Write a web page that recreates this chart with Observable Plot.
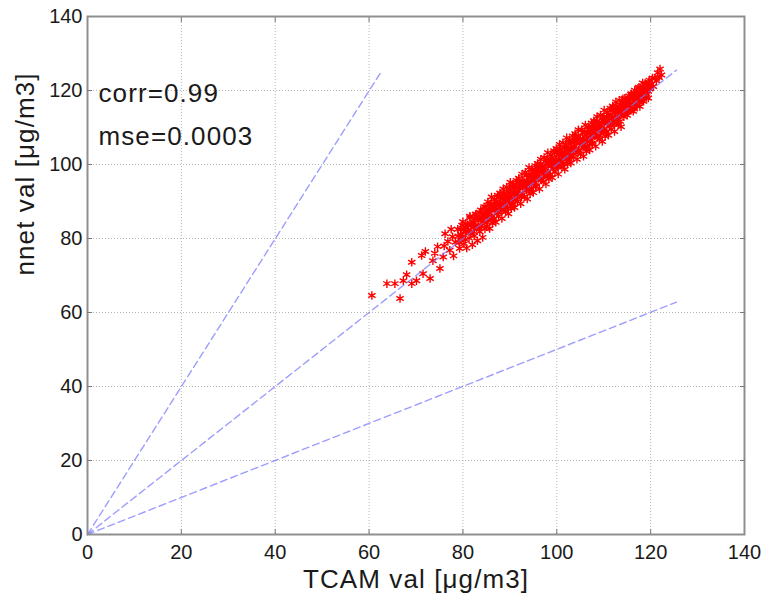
<!DOCTYPE html>
<html>
<head>
<meta charset="utf-8">
<script src="https://cdn.jsdelivr.net/npm/d3@7"></script>
<script src="https://cdn.jsdelivr.net/npm/@observablehq/plot@0.6"></script>
<style>
  html, body { margin: 0; padding: 0; background: #fff; }
  svg g[aria-label="text"] text { letter-spacing: 1.1px; }
</style>
</head>
<body>
<div id="chart"></div>
<script>
// ---- data ----
const axisTicks = [0, 20, 40, 60, 80, 100, 120, 140];
const gridTicks = [20, 40, 60, 80, 100, 120];
const xLabel = "TCAM val [\u03bcg/m3]";
const yLabel = "nnet val [\u03bcg/m3]";
const statsLines = ["corr=0.99", "mse=0.0003"];

// reference guide lines y = 2x, y = x, y = 0.5x
const guideId = ["2x", "2x", "1x", "1x", "05x", "05x"];
const guideX  = [0, 62.8, 0, 125.5, 0, 125.5];
const guideY  = [0, 125.5, 0, 125.5, 0, 62.8];

// scatter: TCAM (x) vs nnet (y)
const tcam = [
  60.6, 63.8, 65.5, 66.6, 67.3, 68.0, 69.1, 69.1, 70.1, 71.2, 71.5, 72.0, 73.0, 73.6, 74.0, 74.6, 75.1, 75.8, 76.0, 76.2, 76.8, 77.2, 77.5,
  77.8, 78.0, 78.4, 78.9, 79.3, 79.6, 80.0, 80.2, 80.5, 80.8, 81.0, 81.3, 81.5, 81.7, 82.0, 82.2, 82.4, 82.7, 82.9, 83.1, 83.4, 83.6, 83.8, 84.0, 84.2, 84.5, 84.7, 84.9,
  85, 85.1, 85.3, 85.4, 85.6, 85.7, 85.9,
  86, 86.1, 86.3, 86.4, 86.6, 86.7, 86.9,
  87, 87.1, 87.3, 87.4, 87.6, 87.7, 87.9,
  88, 88.1, 88.3, 88.4, 88.6, 88.7, 88.9,
  89, 89.1, 89.3, 89.4, 89.6, 89.7, 89.9,
  90, 90.1, 90.3, 90.4, 90.6, 90.7, 90.9,
  91, 91.1, 91.3, 91.4, 91.6, 91.7, 91.9,
  92, 92.1, 92.3, 92.4, 92.6, 92.7, 92.9,
  93, 93.1, 93.3, 93.4, 93.6, 93.7, 93.9,
  94, 94.1, 94.3, 94.4, 94.6, 94.7, 94.9,
  95, 95.1, 95.3, 95.4, 95.6, 95.7, 95.9,
  96, 96.1, 96.3, 96.4, 96.6, 96.7, 96.9,
  97, 97.1, 97.3, 97.4, 97.6, 97.7, 97.9,
  98, 98.1, 98.3, 98.4, 98.6, 98.7, 98.9,
  99, 99.1, 99.3, 99.4, 99.6, 99.7, 99.9,
  100, 100.1, 100.3, 100.4, 100.6, 100.7, 100.9,
  101, 101.1, 101.3, 101.4, 101.6, 101.7, 101.9,
  102, 102.1, 102.3, 102.4, 102.6, 102.7, 102.9,
  103, 103.1, 103.3, 103.4, 103.6, 103.7, 103.9,
  104, 104.1, 104.3, 104.4, 104.6, 104.7, 104.9,
  105, 105.1, 105.3, 105.4, 105.6, 105.7, 105.9,
  106, 106.1, 106.3, 106.4, 106.6, 106.7, 106.9,
  107, 107.1, 107.3, 107.4, 107.6, 107.7, 107.9,
  108, 108.1, 108.3, 108.4, 108.6, 108.7, 108.9,
  109, 109.1, 109.3, 109.4, 109.6, 109.7, 109.9,
  110, 110.1, 110.3, 110.4, 110.6, 110.7, 110.9,
  111, 111.1, 111.3, 111.4, 111.6, 111.7, 111.9,
  112, 112.1, 112.3, 112.4, 112.6, 112.7, 112.9,
  113, 113.1, 113.3, 113.4, 113.6, 113.7, 113.9,
  114, 114.1, 114.3, 114.4, 114.6, 114.7, 114.9,
  115, 115.1, 115.3, 115.4, 115.6, 115.7, 115.9,
  116, 116.1, 116.3, 116.4, 116.6, 116.7, 116.9,
  117, 117.1, 117.3, 117.4, 117.6, 117.7, 117.9,
  118, 118.3, 118.5, 118.7, 118.9,
  119.1, 119.3, 119.5, 119.7, 119.9,
  120.1, 120.4, 120.6, 120.9,
  121.2, 121.5, 121.8,
  122.0, 122.3,
  // second, denser layer near the band centre
  79, 79.2, 79.5, 79.6, 79.8,
  80, 80.2, 80.5, 80.6, 80.8,
  81, 81.2, 81.5, 81.6, 81.8,
  82, 82.2, 82.5, 82.6, 82.8,
  83, 83.2, 83.5, 83.6, 83.8,
  84, 84.2, 84.5, 84.6, 84.8,
  85, 85.2, 85.5, 85.6, 85.8,
  86, 86.2, 86.5, 86.6, 86.8,
  87, 87.2, 87.5, 87.6, 87.8,
  88, 88.2, 88.5, 88.6, 88.8,
  89, 89.2, 89.5, 89.6, 89.8,
  90, 90.2, 90.5, 90.6, 90.8,
  91, 91.2, 91.5, 91.6, 91.8,
  92, 92.2, 92.5, 92.6, 92.8,
  93, 93.2, 93.5, 93.6, 93.8,
  94, 94.2, 94.5, 94.6, 94.8,
  95, 95.2, 95.5, 95.6, 95.8,
  96, 96.2, 96.5, 96.6, 96.8,
  97, 97.2, 97.5, 97.6, 97.8,
  98, 98.2, 98.5, 98.6, 98.8,
  99, 99.2, 99.5, 99.6, 99.8,
  100, 100.2, 100.5, 100.6, 100.8,
  101, 101.2, 101.5, 101.6, 101.8,
  102, 102.2, 102.5, 102.6, 102.8,
  103, 103.2, 103.5, 103.6, 103.8,
  104, 104.2, 104.5, 104.6, 104.8,
  105, 105.2, 105.5, 105.6, 105.8,
  106, 106.2, 106.5, 106.6, 106.8,
  107, 107.2, 107.5, 107.6, 107.8,
  108, 108.2, 108.5, 108.6, 108.8,
  109, 109.2, 109.5, 109.6, 109.8,
  110, 110.2, 110.5, 110.6, 110.8,
  111, 111.2, 111.5, 111.6, 111.8,
  112, 112.2, 112.5, 112.6, 112.8,
  113, 113.2, 113.5, 113.6, 113.8,
  114, 114.2, 114.5, 114.6, 114.8,
  115, 115.2, 115.5, 115.6, 115.8,
  116, 116.2, 116.5, 116.6, 116.8,
  117, 117.2, 117.5, 117.6, 117.8,
  118, 118.2, 118.5, 118.6, 118.8,
  119, 119.2, 119.5, 119.6, 119.8
];
const nnet = [
  64.6, 67.8, 67.8, 63.8, 68.6, 70.2, 67.8, 73.6, 68.6, 75.4, 70.5, 76.5, 69.2, 74.0, 76.0, 77.8, 71.9, 75.0, 78.0, 81.3, 79.2, 76.8, 82.5,
  80.5, 75.3, 79.0, 82.5, 77.3, 81.1, 84.5, 78.5, 82.0, 77.4, 83.7, 80.1, 86.0, 81.5, 78.3, 84.3, 80.7, 86.5, 82.8, 79.4, 85.1, 81.8, 87.7, 83.5, 80.3, 86.2, 82.6, 88.5,
  87.5, 83.3, 89.9, 85.8, 87.0, 82.7, 89.3,
  85.4, 91.2, 84.1, 88.3, 85.4, 90.6, 87.8,
  84.4, 89.9, 87.2, 91.7, 86.0, 88.9, 92.3,
  91.6, 88.2, 85.4, 90.6, 93.4, 87.8, 90.5,
  91.5, 87.3, 93.9, 89.8, 91.0, 86.7, 93.3,
  89.4, 95.2, 88.1, 92.3, 89.4, 94.6, 91.8,
  88.4, 93.9, 91.2, 95.7, 90.0, 92.9, 96.3,
  95.6, 92.2, 89.4, 94.6, 97.4, 91.8, 94.5,
  95.5, 91.3, 97.9, 93.8, 95.0, 90.7, 97.3,
  93.4, 99.2, 92.1, 96.3, 93.4, 98.6, 95.8,
  92.4, 97.9, 95.2, 99.7, 94.0, 96.9, 100.3,
  99.6, 96.2, 93.4, 98.6, 101.4, 95.8, 98.5,
  99.5, 95.3, 101.9, 97.8, 99.0, 94.7, 101.3,
  97.4, 103.2, 96.1, 100.3, 97.4, 102.6, 99.8,
  96.4, 101.9, 99.2, 103.7, 98.0, 100.9, 104.3,
  103.6, 100.2, 97.4, 102.6, 105.4, 99.8, 102.5,
  103.5, 99.3, 105.9, 101.8, 103.0, 98.7, 105.3,
  101.4, 107.2, 100.1, 104.3, 101.4, 106.6, 103.8,
  100.4, 105.9, 103.2, 107.7, 102.0, 104.9, 108.3,
  107.6, 104.2, 101.4, 106.6, 109.4, 103.8, 106.5,
  107.0, 102.8, 109.4, 105.3, 106.5, 102.2, 108.8,
  104.9, 110.7, 103.6, 107.8, 104.9, 110.1, 107.3,
  103.9, 109.4, 106.7, 111.2, 105.5, 108.4, 111.8,
  111.1, 107.7, 104.9, 110.1, 112.9, 107.3, 110.0,
  111.0, 106.8, 113.4, 109.3, 110.5, 106.2, 112.8,
  108.9, 114.7, 107.6, 111.8, 108.9, 114.1, 111.3,
  107.9, 113.4, 110.7, 115.2, 109.5, 112.4, 115.8,
  115.1, 111.7, 108.9, 114.1, 116.9, 111.3, 114.0,
  115.0, 110.8, 117.4, 113.3, 114.5, 110.2, 116.8,
  113.7, 117.8, 112.9, 115.8, 113.9, 117.5, 115.6,
  113.3, 117.2, 115.3, 118.5, 114.6, 116.6, 119.1,
  118.6, 116.3, 114.4, 118.0, 120.1, 116.2, 118.1,
  118.9, 115.9, 120.6, 117.8, 118.7, 115.7, 120.4,
  117.7, 122.0, 117.1, 120.1, 119.6,
  118.1, 121.4, 119.8, 122.8, 121.1,
  121.7, 123.4, 121.1, 123.3,
  122.6, 124.8, 123.5,
  125.8, 124.2,
  // second layer
  80.7, 78.9, 82.4, 80.4, 83.6,
  80.3, 82.5, 79.7, 84.0, 82.1,
  83.6, 82.2, 85.6, 81.6, 83.8,
  83.7, 81.9, 85.4, 83.4, 86.6,
  83.3, 85.5, 82.7, 87.0, 85.1,
  86.6, 85.2, 88.6, 84.6, 86.8,
  86.2, 84.4, 87.9, 85.9, 89.1,
  85.8, 88.0, 85.2, 89.5, 87.6,
  89.1, 87.7, 91.1, 87.1, 89.3,
  89.2, 87.4, 90.9, 88.9, 92.1,
  88.8, 91.0, 88.2, 92.5, 90.6,
  92.1, 90.7, 94.1, 90.1, 92.3,
  92.2, 90.4, 93.9, 91.9, 95.1,
  91.8, 94.0, 91.2, 95.5, 93.6,
  95.1, 93.7, 97.1, 93.1, 95.3,
  95.2, 93.4, 96.9, 94.9, 98.1,
  94.8, 97.0, 94.2, 98.5, 96.6,
  98.1, 96.7, 100.1, 96.1, 98.3,
  98.2, 96.4, 99.9, 97.9, 101.1,
  97.8, 100.0, 97.2, 101.5, 99.6,
  101.1, 99.7, 103.1, 99.1, 101.3,
  101.2, 99.4, 102.9, 100.9, 104.1,
  100.8, 103.0, 100.2, 104.5, 102.6,
  104.1, 102.7, 106.1, 102.1, 104.3,
  104.2, 102.4, 105.9, 103.9, 107.1,
  103.8, 106.0, 103.2, 107.5, 105.6,
  106.6, 105.2, 108.6, 104.6, 106.8,
  106.7, 104.9, 108.4, 106.4, 109.6,
  106.3, 108.5, 105.7, 110.0, 108.1,
  109.6, 108.2, 111.6, 107.6, 109.8,
  109.7, 107.9, 111.4, 109.4, 112.6,
  109.3, 111.5, 108.7, 113.0, 111.1,
  112.6, 111.2, 114.6, 110.6, 112.8,
  112.7, 110.9, 114.4, 112.4, 115.6,
  112.3, 114.5, 111.7, 116.0, 114.1,
  115.9, 114.5, 117.9, 113.9, 116.1,
  116.0, 114.2, 117.7, 115.7, 118.9,
  115.6, 117.8, 115.0, 119.3, 117.4,
  118.9, 117.5, 120.9, 116.9, 119.1,
  119.0, 117.2, 120.7, 118.7, 121.9,
  118.6, 120.8, 118.0, 122.3, 120.4
];

// ---- tables built from the arrays ----
const points = tcam.map((x, i) => ({x, y: nnet[i]}));
const guides = guideX.map((x, i) => ({k: guideId[i], x, y: guideY[i]}));

const FONT = "'Liberation Sans', Arial, Helvetica, sans-serif";
const frameGray = "#8f8f8f";
const tickGray = "#7a7a7a";

const chart = Plot.plot({
  width: 763,
  height: 599,
  marginLeft: 87,
  marginRight: 19,
  marginTop: 16,
  marginBottom: 65,
  style: {fontFamily: FONT, background: "#fff", overflow: "visible"},
  x: {domain: [0, 140]},
  y: {domain: [0, 140]},
  marks: [
    Plot.gridX(gridTicks, {stroke: "#b5b5b5", strokeOpacity: 1, strokeWidth: 1, strokeDasharray: "1,2"}),
    Plot.gridY(gridTicks, {stroke: "#b5b5b5", strokeOpacity: 1, strokeWidth: 1, strokeDasharray: "1,2"}),
    Plot.dot(points, {x: "x", y: "y", symbol: "asterisk", r: 4, stroke: "#ff0000", strokeWidth: 1.4}),
    Plot.line(guides, {x: "x", y: "y", z: "k", stroke: "#7373ff", strokeOpacity: 0.7, strokeWidth: 1.4, strokeDasharray: "7,4"}),
    Plot.frame({stroke: frameGray, strokeWidth: 2}),
    // inward ticks on all four sides
    Plot.axisX(gridTicks, {anchor: "bottom", tickSize: 5, dy: -5, tickFormat: () => "", stroke: tickGray, label: null}),
    Plot.axisX(gridTicks, {anchor: "top", tickSize: 5, dy: 5, tickFormat: () => "", stroke: tickGray, label: null}),
    Plot.axisY(gridTicks, {anchor: "left", tickSize: 5, dx: 5, tickFormat: () => "", stroke: tickGray, label: null}),
    Plot.axisY(gridTicks, {anchor: "right", tickSize: 5, dx: -5, tickFormat: () => "", stroke: tickGray, label: null}),
    // tick labels
    Plot.axisX(axisTicks, {anchor: "bottom", tickSize: 0, tickPadding: 10, fontSize: 20, fill: "#1a1a1a", label: null}),
    Plot.axisY(axisTicks, {anchor: "left", tickSize: 0, tickPadding: 5, fontSize: 20, fill: "#1a1a1a", label: null}),
    // axis titles
    Plot.text([xLabel], {frameAnchor: "bottom", dy: 45, lineAnchor: "middle", fontSize: 26, fill: "#1a1a1a", text: d => d}),
    Plot.text([yLabel], {frameAnchor: "left", dx: -62, rotate: -90, lineAnchor: "middle", fontSize: 26, fill: "#1a1a1a", text: d => d}),
    // statistics annotation
    Plot.text([statsLines[0]], {frameAnchor: "top-left", dx: 11, dy: 77, lineAnchor: "middle", textAnchor: "start", fontSize: 26, fill: "#1a1a1a", text: d => d}),
    Plot.text([statsLines[1]], {frameAnchor: "top-left", dx: 11, dy: 120, lineAnchor: "middle", textAnchor: "start", fontSize: 26, fill: "#1a1a1a", text: d => d})
  ]
});

document.getElementById("chart").appendChild(chart);
</script>
</body>
</html>
